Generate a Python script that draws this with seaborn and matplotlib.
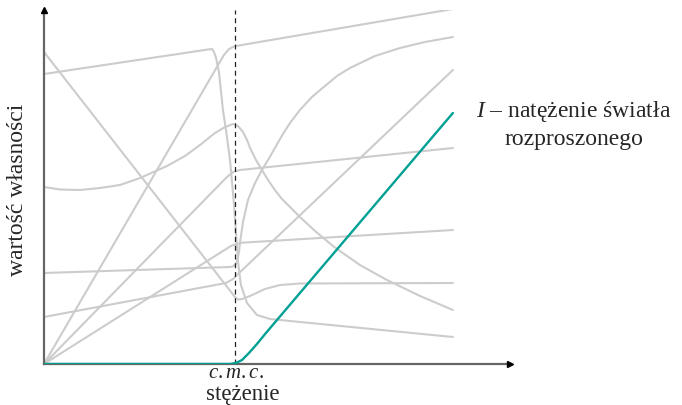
import numpy as np
import pandas as pd
import matplotlib
matplotlib.use("Agg")
import matplotlib.pyplot as plt
import seaborn as sns

# ---- data (concentration in units of c.m.c., property value in arbitrary units) ----
cmc = 1.0

a_x = [0, 0.859, 0.880, 0.890, 0.901, 0.916, 0.937, 0.953, 0.974, 0.995, 1.016, 1.031, 1.063, 1.115, 1.183, 1.288, 2.141]
a_y = [2.90, 3.145, 3.15, 3.12, 3.06, 2.92, 2.54, 2.34, 2.04, 1.59, 1.02, 0.79, 0.61, 0.49, 0.45, 0.43, 0.27]

b_x = [0, 1.000, 1.016, 1.037, 1.079, 1.157, 1.236, 1.340, 2.141]
b_y = [3.12, 0.67, 0.645, 0.65, 0.68, 0.75, 0.79, 0.805, 0.81]

c_x = [0, 0.084, 0.188, 0.293, 0.398, 0.503, 0.644, 0.738, 0.817, 0.895, 0.948, 0.990, 1.016, 1.042,
       1.063, 1.079, 1.110, 1.141, 1.173, 1.209, 1.246, 1.288, 1.340, 1.419, 1.513, 1.654, 1.796, 1.969, 2.141]
c_y = [1.77, 1.745, 1.74, 1.76, 1.79, 1.86, 1.98, 2.08, 2.19, 2.31, 2.37, 2.40, 2.38, 2.32,
       2.24, 2.16, 2.04, 1.94, 1.84, 1.74, 1.65, 1.57, 1.47, 1.33, 1.18, 0.99, 0.84, 0.68, 0.54]

d_x = [0, 0.942, 0.969, 0.995, 1.026, 2.141]
d_y = [0, 3.09, 3.15, 3.175, 3.187, 3.55]

e_x = [0, 0.958, 0.979, 1.005, 1.037, 2.141]
e_y = [0, 1.155, 1.18, 1.20, 1.213, 1.34]

f_x = [0, 0.953, 0.990, 1.005, 2.141]
f_y = [0.47, 0.81, 0.85, 0.88, 2.94]

g_x = [0, 0.958, 0.990, 1.026, 2.141]
g_y = [0, 1.87, 1.92, 1.94, 2.16]

h_x = [0, 0.974, 0.995, 1.010, 1.021, 1.026, 1.042, 1.068, 1.105, 1.141, 1.173, 1.209, 1.251, 1.288,
       1.340, 1.403, 1.471, 1.534, 1.602, 1.733, 1.864, 1.995, 2.141]
h_y = [0.91, 0.97, 0.98, 1.02, 1.12, 1.21, 1.42, 1.64, 1.81, 1.94, 2.04, 2.16, 2.30, 2.41,
       2.54, 2.67, 2.78, 2.88, 2.96, 3.08, 3.16, 3.22, 3.27]

i_x = [0, 0.974, 1.005, 1.037, 1.073, 1.115, 1.162, 2.141]
i_y = [0, 0, 0.01, 0.04, 0.11, 0.20, 0.31, 2.51]

gray_series = [(a_x, a_y), (b_x, b_y), (c_x, c_y), (d_x, d_y), (e_x, e_y),
               (f_x, f_y), (g_x, g_y), (h_x, h_y)]

xlabel_text = "stężenie"
ylabel_text = "wartość własności"
cmc_text = "$c.m.c.$"
i_label_1 = "$I$ – natężenie światła"
i_label_2 = "rozproszonego"

# ---- style ----
sns.set_theme(style="white")
plt.rcParams["font.family"] = ["Liberation Serif", "DejaVu Serif"]
plt.rcParams["mathtext.fontset"] = "custom"
plt.rcParams["mathtext.rm"] = "Liberation Serif"
plt.rcParams["mathtext.it"] = "Liberation Serif:italic"

W, H = 682, 405
fig = plt.figure(figsize=(W / 100, H / 100), dpi=100)
ax = fig.add_axes([44 / W, 41 / H, 466 / W, 354 / H])

gray = "#cccccc"
teal = "#00a094"

for xs, ys in gray_series:
    sns.lineplot(x=xs, y=ys, ax=ax, color=gray, linewidth=1.5, sort=False,
                 estimator=None, zorder=2)

ax.axvline(cmc, ymin=0, ymax=1, color="#222222", linewidth=0.9,
           linestyle=(0, (4, 3)), zorder=3)

sns.lineplot(x=i_x, y=i_y, ax=ax, color=teal, linewidth=1.7, sort=False,
             estimator=None, zorder=5)

ax.set_xlim(0, 2.44)
ax.set_ylim(0, 3.54)
ax.set_xticks([])
ax.set_yticks([])
ax.set_xlabel("")
ax.set_ylabel("")
for s in ["top", "right"]:
    ax.spines[s].set_visible(False)
for s in ["left", "bottom"]:
    ax.spines[s].set_color("#666666")
    ax.spines[s].set_linewidth(1.6)
    ax.spines[s].set_zorder(4)

# arrow heads
ax.plot(1, 0, ">", color="black", markersize=5, transform=ax.get_yaxis_transform(),
        clip_on=False, zorder=6)
ax.plot(0, 1, "^", color="black", markersize=5, transform=ax.get_xaxis_transform(),
        clip_on=False, zorder=6)

fs = 17
fig.text(236 / W, 1 - 378 / H, cmc_text, ha="center", va="baseline", fontsize=15)
fig.text(243 / W, 1 - 400 / H, xlabel_text, ha="center", va="baseline", fontsize=16.5)
fig.text(18 / W, 1 - 190 / H, ylabel_text, ha="center", va="center",
         rotation=90, fontsize=fs)
fig.text(574 / W, 1 - 117 / H, i_label_1, ha="center", va="baseline", fontsize=fs)
fig.text(574 / W, 1 - 145 / H, i_label_2, ha="center", va="baseline", fontsize=fs)

fig.savefig("out.png", dpi=100)
